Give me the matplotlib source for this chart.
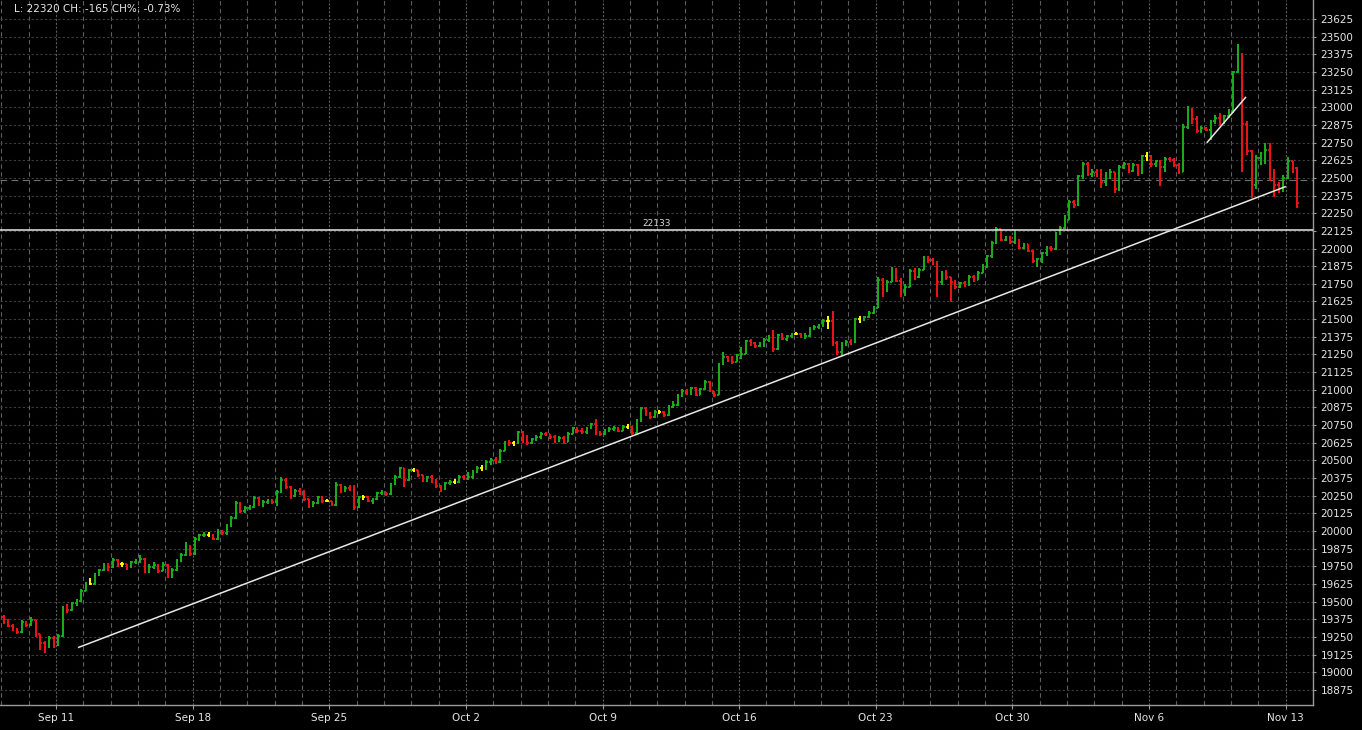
import matplotlib
matplotlib.use('Agg')
import matplotlib.pyplot as plt
import matplotlib.transforms as mtransforms
import numpy as np

# bars are 6 per trading day, day index 0 = Sep 7
bars_per_day = 6
first_open = 19395

closes = [
    19360, 19330, 19300, 19285, 19355, 19335,
    19370, 19270, 19205, 19180, 19245, 19195,
    19260, 19450, 19440, 19490, 19505, 19575,
    19625, 19625, 19690, 19725, 19760, 19745,
    19795, 19765, 19765, 19745, 19780, 19785,
    19805, 19720, 19745, 19760, 19720, 19760,
    19680, 19725, 19790, 19830, 19895, 19840,
    19945, 19970, 19975, 19975, 19945, 20000,
    19985, 20040, 20095, 20200, 20140, 20165,
    20170, 20235, 20190, 20205, 20215, 20205,
    20280, 20360, 20315, 20245, 20285, 20275,
    20230, 20180, 20200, 20240, 20215, 20215,
    20185, 20325, 20285, 20305, 20300, 20170,
    20240, 20240, 20215, 20225, 20270, 20275,
    20265, 20330, 20385, 20445, 20360, 20430,
    20430, 20395, 20360, 20380, 20350, 20320,
    20295, 20340, 20350, 20350, 20380, 20375,
    20385, 20420, 20445, 20445, 20490, 20505,
    20490, 20570, 20630, 20620, 20620, 20700,
    20640, 20625, 20650, 20665, 20690, 20685,
    20665, 20635, 20660, 20630, 20690, 20730,
    20705, 20700, 20730, 20755, 20690, 20685,
    20715, 20725, 20730, 20710, 20740, 20740,
    20695, 20780, 20870, 20825, 20810, 20845,
    20845, 20820, 20880, 20895, 20960, 20995,
    20975, 21010, 20965, 21005, 21055, 20990,
    20965, 21180, 21235, 21205, 21200, 21245,
    21255, 21345, 21330, 21310, 21320, 21355,
    21365, 21290, 21385, 21360, 21380, 21395,
    21395, 21375, 21380, 21430, 21445, 21450,
    21490, 21490, 21330, 21265, 21325, 21340,
    21335, 21500, 21500, 21515, 21545, 21580,
    21780, 21700, 21765, 21850, 21770, 21680,
    21730, 21840, 21795, 21850, 21935, 21920,
    21895, 21760, 21830, 21800, 21765, 21730,
    21755, 21740, 21800, 21780, 21830, 21880,
    21945, 22040, 22140, 22060, 22075, 22045,
    22060, 22005, 22030, 21985, 21910, 21925,
    21965, 22005, 22000, 22110, 22145, 22205,
    22330, 22310, 22510, 22600, 22525, 22545,
    22530, 22470, 22520, 22540, 22420, 22575,
    22600, 22550, 22590, 22535, 22655, 22655,
    22595, 22620, 22575, 22635, 22625, 22590,
    22545, 22860, 22990, 22920, 22830, 22855,
    22840, 22905, 22925, 22890, 22935, 22975,
    23250, 23370, 22880, 22690, 22450, 22640,
    22665, 22700, 22545, 22450, 22420, 22500,
    22620, 22570, 22320,
]

highs = [
    19405, 19375, 19345, 19315, 19370, 19365,
    19390, 19360, 19275, 19220, 19260, 19255,
    19270, 19470, 19485, 19500, 19520, 19590,
    19640, 19665, 19700, 19735, 19775, 19775,
    19810, 19800, 19780, 19770, 19790, 19800,
    19830, 19810, 19770, 19780, 19770, 19780,
    19770, 19740, 19800, 19845, 19920, 19905,
    19955, 19980, 19990, 19995, 19980, 20015,
    20005, 20050, 20110, 20210, 20205, 20180,
    20185, 20250, 20240, 20220, 20230, 20225,
    20290, 20380, 20375, 20320, 20295, 20305,
    20290, 20230, 20215, 20250, 20245, 20230,
    20215, 20345, 20335, 20320, 20325, 20325,
    20250, 20255, 20245, 20235, 20280, 20290,
    20280, 20340, 20395, 20455, 20450, 20440,
    20445, 20430, 20400, 20390, 20395, 20370,
    20325, 20350, 20365, 20370, 20395, 20395,
    20420, 20430, 20460, 20465, 20500, 20520,
    20525, 20580, 20640, 20645, 20640, 20710,
    20710, 20680, 20660, 20680, 20700, 20700,
    20690, 20680, 20670, 20670, 20700, 20740,
    20740, 20730, 20740, 20765, 20795, 20705,
    20725, 20740, 20745, 20740, 20750, 20755,
    20745, 20790, 20880, 20875, 20840, 20855,
    20860, 20850, 20890, 20920, 20970, 21005,
    21005, 21020, 21020, 21015, 21070, 21060,
    20995, 21190, 21270, 21240, 21240, 21255,
    21300, 21355, 21360, 21340, 21335, 21365,
    21385, 21420, 21395, 21400, 21390, 21405,
    21410, 21405, 21400, 21445, 21460, 21465,
    21500, 21520, 21555, 21345, 21335, 21355,
    21360, 21510, 21520, 21525, 21555, 21590,
    21800, 21790, 21780, 21870, 21860, 21790,
    21750, 21855, 21860, 21860, 21945, 21950,
    21935, 21915, 21840, 21845, 21790, 21775,
    21765, 21770, 21810, 21815, 21840, 21890,
    21955, 22055, 22150, 22140, 22090, 22090,
    22130, 22070, 22040, 22030, 21990, 21935,
    21975, 22015, 22020, 22120, 22160, 22235,
    22340, 22345, 22520, 22615, 22610, 22560,
    22560, 22560, 22540, 22565, 22545, 22590,
    22615, 22605, 22605, 22600, 22665, 22680,
    22665, 22630, 22625, 22645, 22650, 22640,
    22605, 22880, 23010, 22995, 22935, 22870,
    22860, 22910, 22945, 22960, 22945, 22985,
    23260, 23445, 23385, 22900, 22700, 22665,
    22680, 22750, 22750, 22560, 22470, 22520,
    22645, 22600, 22580,
]

lows = [
    19345, 19320, 19290, 19275, 19280, 19320,
    19325, 19250, 19160, 19135, 19170, 19175,
    19190, 19250, 19420, 19435, 19470, 19500,
    19580, 19615, 19615, 19680, 19715, 19720,
    19740, 19745, 19745, 19725, 19740, 19765,
    19775, 19705, 19700, 19730, 19705, 19715,
    19665, 19670, 19720, 19780, 19825, 19825,
    19830, 19930, 19955, 19955, 19935, 19940,
    19975, 19975, 20030, 20085, 20125, 20130,
    20150, 20160, 20180, 20170, 20195, 20195,
    20175, 20270, 20300, 20225, 20240, 20255,
    20215, 20165, 20170, 20195, 20200, 20205,
    20175, 20180, 20270, 20280, 20285, 20150,
    20160, 20220, 20205, 20195, 20220, 20255,
    20245, 20255, 20325, 20375, 20310, 20355,
    20415, 20385, 20345, 20350, 20340, 20305,
    20280, 20290, 20325, 20335, 20340, 20360,
    20365, 20370, 20410, 20425, 20435, 20470,
    20475, 20485, 20565, 20605, 20600, 20615,
    20620, 20610, 20615, 20640, 20655, 20670,
    20650, 20625, 20630, 20615, 20630, 20685,
    20695, 20690, 20690, 20720, 20680, 20670,
    20680, 20700, 20705, 20700, 20705, 20725,
    20680, 20690, 20775, 20815, 20795, 20800,
    20830, 20810, 20815, 20870, 20885, 20950,
    20965, 20965, 20955, 20960, 21000, 20985,
    20950, 20960, 21175, 21195, 21185, 21195,
    21215, 21250, 21310, 21295, 21300, 21305,
    21340, 21265, 21280, 21350, 21345, 21370,
    21385, 21365, 21360, 21375, 21420, 21430,
    21445, 21430, 21310, 21245, 21240, 21310,
    21320, 21330, 21470, 21490, 21505, 21535,
    21580, 21660, 21690, 21760, 21760, 21660,
    21665, 21725, 21780, 21790, 21845, 21900,
    21885, 21660, 21745, 21775, 21620, 21715,
    21720, 21725, 21735, 21760, 21775, 21825,
    21860, 21930, 22030, 22050, 22050, 22035,
    22035, 21995, 22000, 21975, 21895, 21870,
    21895, 21950, 21985, 21990, 22095, 22140,
    22200, 22290, 22300, 22490, 22510, 22505,
    22505, 22430, 22445, 22495, 22395, 22410,
    22560, 22535, 22540, 22510, 22525, 22620,
    22580, 22575, 22440, 22540, 22610, 22575,
    22530, 22545, 22845, 22880, 22815, 22815,
    22830, 22770, 22880, 22875, 22880, 22925,
    22960, 23240, 22540, 22660, 22355, 22420,
    22590, 22600, 22480, 22365, 22395, 22400,
    22490, 22535, 22285,
]

week_days = [2, 7, 12, 17, 22, 27, 32, 37, 42, 47]
week_labels = ['Sep 11', 'Sep 18', 'Sep 25', 'Oct 2', 'Oct 9',
               'Oct 16', 'Oct 23', 'Oct 30', 'Nov 6', 'Nov 13']

# drawn trend lines (day index, price)
support_x = [2.83, 46.98]
support_y = [19177, 22437]
channel_x = [44.13, 45.53]
channel_y = [22752, 23069]
level = 22133
prev_close = 22485
header = 'L: 22320 CH: -165 CH%: -0.73%'

closes = np.array(closes, dtype=float)
opens = np.concatenate([[first_open], closes[:-1]])
highs = np.maximum(np.array(highs, dtype=float), np.maximum(opens, closes))
lows = np.minimum(np.array(lows, dtype=float), np.minimum(opens, closes))
n = len(closes)
x = np.arange(n) / bars_per_day + 0.5 / bars_per_day

cols = np.where(closes > opens, '#1bb01b', np.where(closes < opens, '#f01414', '#ffff00'))

fig = plt.figure(figsize=(13.62, 7.30), dpi=100, facecolor='black')
ax = fig.add_axes([0, 25 / 730, 1313 / 1362, 705 / 730])
ax.set_facecolor('black')

fg = '#e6e6e6'

price_ticks = np.arange(18875, 23626, 125)
ax.set_yticks(price_ticks)
ax.grid(axis='y', color='#3e3e3e', linestyle=(0, (2, 2)), linewidth=0.8)
for d in range(0, 49):
    if d in week_days:
        ax.axvline(d, color='#5c5c5c', linestyle=(0, (2, 1.5)), linewidth=0.8, zorder=0)
    else:
        ax.axvline(d, color='#5e5e5e', linestyle=(0, (4, 3)), linewidth=0.8, zorder=0)

ax.axhline(prev_close, color='#707070', linestyle=(0, (6, 4)), linewidth=0.8, zorder=1)

w = 0.06
ax.vlines(x, lows, highs, colors=cols, linewidth=1.4, zorder=3)
ax.hlines(opens, x - w, x, colors=cols, linewidth=1.3, zorder=3)
ax.hlines(closes, x, x + w, colors=cols, linewidth=1.3, zorder=3)

ax.axhline(level, color='#e8e8e8', linewidth=1.1, zorder=4)
trans = mtransforms.blended_transform_factory(ax.transAxes, ax.transData)
ax.text(0.5, level + 12, str(level), transform=trans, ha='center', va='bottom',
        color='#d8d8d8', fontsize=6.5)

ax.plot(support_x, support_y, color='#e8e8e8', linewidth=1.1, zorder=4)
ax.plot(channel_x, channel_y, color='#e8e8e8', linewidth=1.1, zorder=4)

ax.set_xlim(-0.05, 48.0)
ax.set_ylim(18769, 23759)

ax.set_xticks(week_days, week_labels)
ax.yaxis.tick_right()
ax.tick_params(axis='y', colors='#9a9a9a', labelcolor=fg, length=2.5, pad=3, labelsize=7.5)
ax.tick_params(axis='x', colors='#9a9a9a', labelcolor=fg, length=3, pad=3, labelsize=7.5)

for s in ['left', 'top']:
    ax.spines[s].set_visible(False)
for s in ['right', 'bottom']:
    ax.spines[s].set_color('#9a9a9a')
    ax.spines[s].set_linewidth(1.0)

fig.text(14 / 1362, 1 - 9 / 730, header, color=fg, fontsize=7.5, va='center', ha='left')

fig.savefig('out.png', dpi=100, facecolor='black')
